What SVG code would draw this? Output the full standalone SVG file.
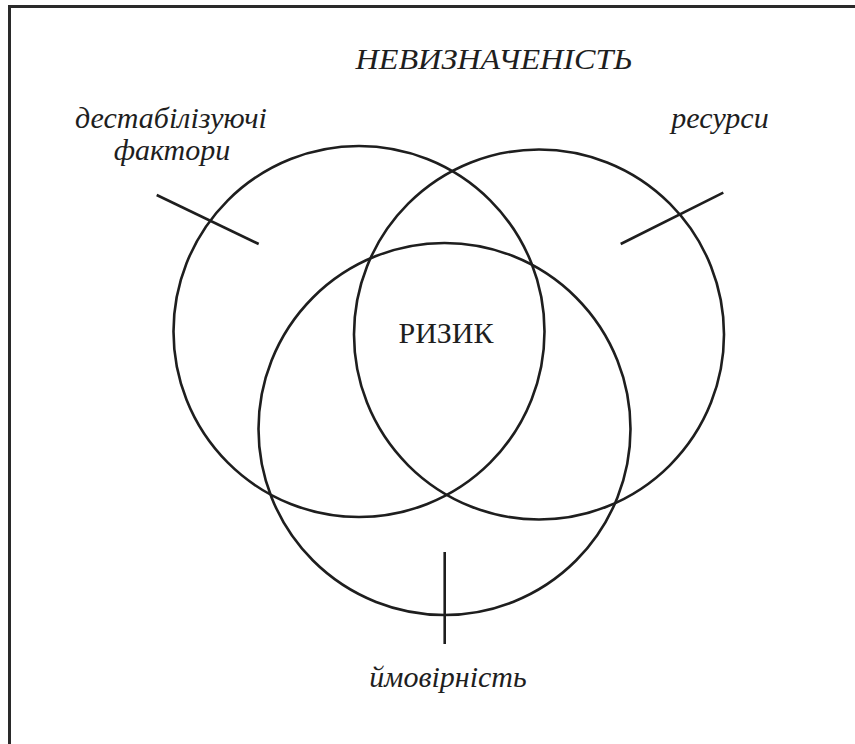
<svg xmlns="http://www.w3.org/2000/svg" width="855" height="744" viewBox="0 0 855 744">
  <style>
    .ring { fill: none; stroke: #1e1e1e; stroke-width: 2.6; }
    .tick { fill: none; stroke: #1e1e1e; stroke-width: 2.6; }
    .frame { fill: none; stroke: #2a2a2a; stroke-width: 3; }
    .lbl { font-family: "Liberation Serif", "Times New Roman", serif; font-style: italic; font-size: 30px; fill: #1e1e1e; }
    .core { font-family: "Liberation Serif", "Times New Roman", serif; font-size: 30px; fill: #1e1e1e; }
  </style>
  <rect width="855" height="744" fill="#ffffff"/>
  <!-- outer frame (open to the right and bottom) -->
  <path class="frame" d="M9.5 744 V6.5 H855"/>

  <text class="lbl" x="494" y="69" text-anchor="middle" textLength="277" lengthAdjust="spacingAndGlyphs">НЕВИЗНАЧЕНІСТЬ</text>

  <g id="destabilizing">
    <circle class="ring" cx="359" cy="331.5" r="185.5"/>
    <text class="lbl" x="171" y="128" text-anchor="middle">дестабілізуючі</text>
    <text class="lbl" x="172" y="160" text-anchor="middle">фактори</text>
  </g>

  <g id="resources">
    <circle class="ring" cx="539" cy="334.5" r="185"/>
    <text class="lbl" x="720" y="128" text-anchor="middle">ресурси</text>
  </g>

  <g id="probability">
    <circle class="ring" cx="444.5" cy="429" r="186"/>
    <text class="lbl" x="448" y="687" text-anchor="middle">ймовірність</text>
  </g>

  <g id="risk">
    <text class="core" x="446" y="343" text-anchor="middle">РИЗИК</text>
  </g>

  <g id="connectors">
    <line class="tick" x1="156.7" y1="195" x2="258.7" y2="244"/>
    <line class="tick" x1="620.7" y1="244" x2="723.3" y2="192.7"/>
    <line class="tick" x1="444.7" y1="552" x2="444.7" y2="644"/>
  </g>
</svg>
